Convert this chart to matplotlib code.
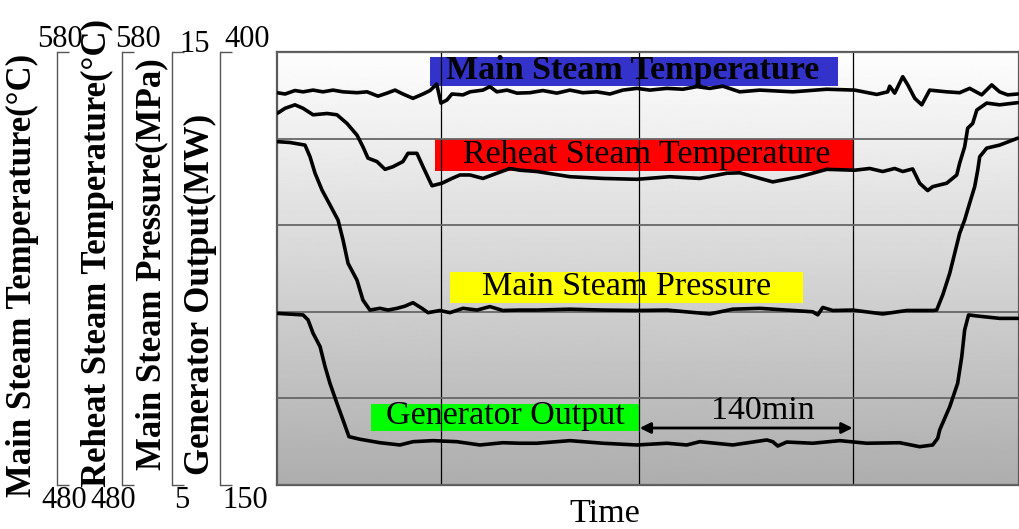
import numpy as np
import matplotlib
matplotlib.use("Agg")
import matplotlib.pyplot as plt
from matplotlib.patches import Rectangle

plt.rcParams['font.family'] = ['Liberation Serif', 'DejaVu Sans']

# time in minutes
t_main = [0, 5.3, 11.8, 17.1, 23.7, 30.2, 36.8, 43.4, 52.6, 59.2, 66.4, 72.3, 77.6, 82.8, 89.4, 96.0,
          100.6, 105.0, 107.8, 111.7, 115.0, 122.3, 126.9, 135.4, 140.0, 144.6, 151.2, 157.8, 166.3,
          174.8, 184.0, 192.6, 201.1, 210.3, 218.9, 227.4, 236.6, 245.2, 256.4, 266.9, 276.1, 284.6,
          293.2, 304.3, 317.5, 339.2, 361.5, 379.9, 394.4, 401.6, 402.9, 406.2, 411.5, 414.8, 419.4,
          424.0, 429.2, 440.4, 448.9, 455.5, 463.4, 470.0, 475.2, 480.5, 487.1]
main_temp = [570.6, 570.3, 571.1, 570.8, 571.2, 570.8, 571.2, 570.8, 570.6, 570.8, 569.8, 570.5, 571.2,
             570.3, 569.3, 570.3, 571.1, 572.6, 568.2, 568.9, 570.3, 570.1, 570.8, 571.2, 572.0, 570.8,
             571.2, 570.5, 570.6, 571.1, 570.5, 571.2, 570.6, 570.8, 570.3, 571.2, 571.6, 571.2, 571.6,
             571.4, 572.0, 571.6, 572.1, 570.8, 571.2, 570.8, 571.4, 571.2, 570.2, 570.8, 572.1, 570.5,
             574.3, 572.4, 569.3, 567.8, 571.2, 570.8, 570.6, 571.6, 570.1, 572.4, 570.8, 570.1, 570.3]

t_reheat = [0, 5.3, 11.8, 17.1, 23.7, 32.9, 39.4, 46.0, 52.6, 56.5, 59.8, 65.7, 71.0, 76.2, 82.8, 86.1,
            92.0, 96.0, 101.9, 108.5, 115.0, 120.3, 126.9, 135.4, 144.6, 153.1, 159.7, 170.9, 192.6,
            214.3, 236.6, 258.3, 278.0, 295.8, 304.3, 326.0, 343.8, 361.5, 379.9, 389.8, 398.3, 406.2,
            411.5, 418.0, 422.6, 427.9, 431.2, 440.4, 447.0, 448.9, 452.2, 454.2, 457.5, 460.2, 466.7,
            475.2, 487.1]
reheat_temp = [565.8, 567.0, 567.8, 567.0, 565.5, 565.8, 565.5, 563.5, 560.8, 558.1, 555.5, 554.7, 552.9,
               553.5, 554.7, 556.6, 556.6, 553.5, 549.1, 549.7, 550.8, 551.6, 551.6, 550.8, 552.0, 553.1,
               552.7, 552.4, 551.2, 550.8, 550.6, 551.2, 550.8, 552.0, 552.1, 550.0, 551.2, 552.9, 552.7,
               553.1, 552.4, 553.1, 552.4, 553.0, 549.7, 548.0, 548.9, 549.7, 551.6, 554.3, 558.1, 562.4,
               563.5, 566.6, 568.2, 567.8, 568.3]

t_press = [0, 8.5, 18.4, 21.7, 25.0, 29.6, 34.8, 40.1, 43.4, 46.7, 52.6, 56.5, 61.1, 67.7, 73.0, 78.9,
           84.1, 89.4, 95.3, 99.3, 107.1, 113.7, 122.3, 131.5, 140.0, 148.5, 159.7, 170.9, 192.6, 214.3,
           236.6, 256.4, 284.6, 299.7, 317.5, 335.2, 352.3, 355.6, 358.9, 365.5, 378.6, 398.3, 414.1,
           431.2, 433.8, 437.8, 442.4, 448.9, 452.2, 455.5, 458.8, 460.8, 462.1, 466.7, 475.2, 487.1]
press = [12.93, 12.91, 12.85, 12.58, 12.20, 11.81, 11.47, 11.12, 10.66, 10.12, 9.73, 9.27, 9.04, 9.08,
         9.04, 9.08, 9.13, 9.21, 9.08, 8.98, 9.03, 8.98, 9.08, 9.04, 9.12, 9.03, 9.04, 9.04, 9.06, 9.04,
         9.03, 9.04, 8.95, 9.06, 9.08, 9.04, 9.00, 8.93, 9.10, 9.03, 9.04, 8.95, 9.03, 9.03, 9.04, 9.39,
         9.89, 10.81, 11.12, 11.51, 11.89, 12.27, 12.58, 12.78, 12.85, 13.01]

t_gen = [0, 17.1, 20.4, 23.7, 28.3, 31.6, 34.8, 39.4, 43.4, 47.3, 54.6, 67.7, 80.8, 89.4, 102.5, 118.3,
         133.4, 148.5, 159.7, 170.9, 192.6, 214.3, 236.6, 256.4, 269.5, 278.0, 299.7, 322.1, 326.0,
         329.3, 335.2, 352.3, 370.1, 387.8, 409.5, 422.6, 431.2, 434.5, 435.8, 442.4, 447.6, 450.3,
         452.2, 454.8, 460.1, 475.2, 487.1]
gen_out = [249.1, 248.2, 245.3, 237.6, 229.9, 218.3, 208.7, 197.2, 187.5, 177.9, 176.4, 174.4, 173.1,
           175.0, 175.6, 175.0, 173.1, 174.4, 174.1, 174.1, 175.6, 174.1, 173.1, 174.1, 173.1, 175.0,
           173.1, 176.0, 175.0, 172.5, 174.8, 174.1, 175.6, 174.1, 174.4, 172.1, 173.1, 177.0, 181.8,
           195.2, 208.7, 224.1, 239.5, 248.2, 247.6, 246.2, 246.2]

grid_times = [108, 238, 379]
arrow_start = 238.5
arrow_len = 140

fig = plt.figure(figsize=(10.2, 5.29), dpi=100)
ax = fig.add_axes([0.2716, 0.0832, 0.7275, 0.8185])
ax.set_xlim(0, 488)
ax.set_ylim(150, 400)
ax.set_xticks(grid_times)
ax.set_yticks(np.arange(150, 401, 50))
ax.tick_params(length=0, labelbottom=False, labelleft=False)

# grey gradient background
grad = np.linspace(0.68, 0.995, 256).reshape(-1, 1)
ax.imshow(grad, cmap='gray', vmin=0, vmax=1, origin='lower', aspect='auto',
          extent=[0, 1, 0, 1], transform=ax.transAxes, zorder=0)
ax.set_axisbelow(False)
ax.yaxis.grid(True, color='#666666', lw=1.3)
ax.xaxis.grid(True, color='black', lw=0.9)
for s in ax.spines.values():
    s.set_color('#5a5a5a')
    s.set_linewidth(1.6)

# labelled boxes inside the plot
boxes = [
    ('Main Steam Temperature', '#3333cc', 'bold', (0.2062, 0.9215, 0.5499, 0.067), (0.4798, 0.9376)),
    ('Reheat Steam Temperature', '#ff0000', 'normal', (0.2129, 0.7252, 0.5647, 0.0739), (0.4987, 0.7436)),
    ('Main Steam Pressure', '#ffff00', 'normal', (0.2332, 0.4203, 0.4757, 0.0716), (0.4704, 0.4388)),
    ('Generator Output', '#00ff00', 'normal', (0.1267, 0.1247, 0.3612, 0.0624), (0.3073, 0.1409)),
]
for txt, col, wt, (x0, y0, w, h), (tx, ty) in boxes:
    ax.add_patch(Rectangle((x0, y0), w, h, transform=ax.transAxes, facecolor=col,
                           edgecolor='none', zorder=1.5))
    ax.text(tx, ty, txt, transform=ax.transAxes, ha='center', va='baseline',
            fontsize=24.5, fontweight=wt, zorder=2)

ax.annotate('', xy=(arrow_start + arrow_len, 0.1316), xytext=(arrow_start, 0.1316),
            xycoords=ax.get_xaxis_transform(),
            arrowprops=dict(arrowstyle='<|-|>', color='black', lw=2, mutation_scale=16,
                            shrinkA=0, shrinkB=0), zorder=3)
ax.text(0.655, 0.1524, '140min', transform=ax.transAxes, ha='center', va='baseline', fontsize=24.5)

# one bracket axis per signal
series = [
    (t_main, main_temp, (480, 580), -0.2965),
    (t_reheat, reheat_temp, (480, 580), -0.2089),
    (t_press, press, (5, 15), -0.1415),
    (t_gen, gen_out, (150, 400), -0.0768),
]
for t, v, (lo, hi), off in series:
    tw = ax.twinx()
    tw.set_ylim(lo, hi)
    tw.plot(t, v, color='black', lw=2.6, solid_joinstyle='round', solid_capstyle='round')
    for k in ['top', 'right', 'bottom']:
        tw.spines[k].set_visible(False)
    tw.spines['left'].set_visible(True)
    tw.spines['left'].set_position(('axes', off))
    tw.spines['left'].set_color('#555555')
    tw.spines['left'].set_linewidth(1)
    tw.yaxis.set_ticks_position('left')
    tw.set_yticks([lo, hi])
    tw.set_yticklabels([])
    tw.tick_params(axis='y', direction='in', length=8.5, width=1, color='#555555')

# bracket end values
top_labels = [('580', 60, 47), ('580', 138, 47), ('15', 195, 52), ('400', 247, 47)]
bot_labels = [('480', 64, 508), ('480', 113, 508), ('5', 182, 508), ('150', 245, 508)]
for s, px, py in top_labels + bot_labels:
    fig.text(px / 1020, 1 - py / 529, s, ha='center', va='baseline', fontsize=22)

# rotated axis titles
titles = [
    ('Main Steam Temperature(°C)', 22, 497),
    ('Reheat Steam Temperature(°C)', 97, 487),
    ('Main Steam Pressure(MPa)', 152, 470),
    ('Generator Output(MW)', 200, 475),
]
for s, px, py in titles:
    fig.text(px / 1020, 1 - py / 529, s, rotation=90, ha='center', va='bottom',
             fontsize=25, fontweight='bold')

fig.text(605 / 1020, 1 - 522 / 529, 'Time', ha='center', va='baseline', fontsize=24.5)

fig.savefig('out.png', dpi=100)
